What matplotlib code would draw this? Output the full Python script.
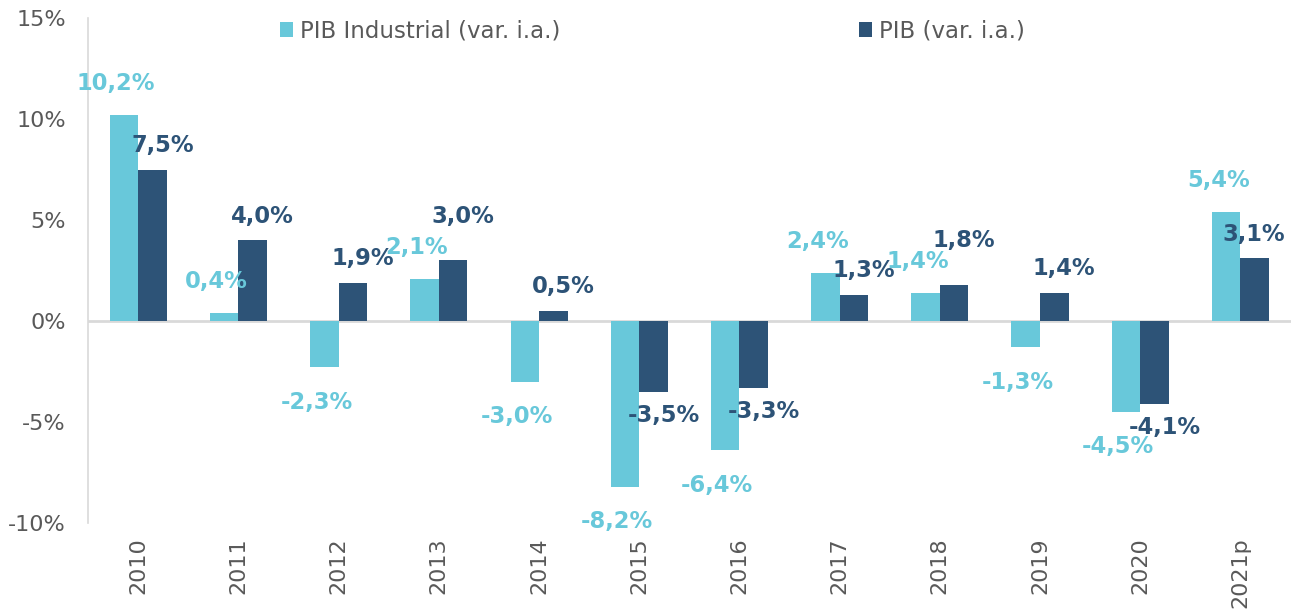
import numpy as np
import matplotlib
matplotlib.use("Agg")
import matplotlib.pyplot as plt

# data
years=["2010","2011","2012","2013","2014","2015","2016","2017","2018","2019","2020","2021p"]
pib_ind=[10.2,0.4,-2.3,2.1,-3.0,-8.2,-6.4,2.4,1.4,-1.3,-4.5,5.4]
pib=[7.5,4.0,1.9,3.0,0.5,-3.5,-3.3,1.3,1.8,1.4,-4.1,3.1]
names=["PIB Industrial (var. i.a.)","PIB (var. i.a.)"]

# style
c_light="#68C8DA"
c_dark="#2D5377"
c_txt="#595959"
FS=16
LFS=16.3

f0=plt.figure(figsize=(12.97,6.11),dpi=100)
ax0=f0.add_axes([0.068,0.144,0.927,0.8265])

x=np.arange(len(years))
w=0.285
b0=ax0.bar(x-w/2,pib_ind,w,color=c_light,label=names[0])
b1=ax0.bar(x+w/2,pib,w,color=c_dark,label=names[1])

def fmt(v):
    return ("%.1f%%"%v).replace(".",",")

# labels
labs=[]
for xi,v in zip(x,pib_ind):
    dy=31 if v>=0 else -35
    labs.append(ax0.annotate(fmt(v),(xi-w/2,v),xytext=(-8,dy),textcoords='offset pixels',
                 ha='center',va='center',color=c_light,fontsize=LFS,fontweight='bold'))
for xi,v,vl in zip(x,pib,pib_ind):
    if v>=0:
        # lift the label when it would run into the light one
        dy=44 if (vl>0 and 0<v-vl<1.5) else 24
    else:
        dy=-24
    labs.append(ax0.annotate(fmt(v),(xi+w/2,v),xytext=(10,dy),textcoords='offset pixels',
                 ha='center',va='center',color=c_dark,fontsize=LFS,fontweight='bold'))

ax0.set_xlim(-0.5,len(years)-0.5)
ax0.set_ylim(-10,15)
ax0.set_yticks([-10,-5,0,5,10,15])
ax0.set_yticklabels(["%d%%"%t for t in [-10,-5,0,5,10,15]])
ax0.set_xticks(x)
ax0.set_xticklabels(years,rotation=90)
ax0.tick_params(axis='both',length=0,labelsize=FS,colors=c_txt)
ax0.tick_params(axis='x',pad=10)
ax0.tick_params(axis='y',pad=16)

for s in ['top','right','bottom']:
    ax0.spines[s].set_visible(False)
ax0.spines['left'].set_color("#D9D9D9")
ax0.spines['left'].set_linewidth(1.2)
ax0.axhline(0,color="#D9D9D9",lw=2,zorder=0.5)

leg=f0.legend(handles=[b0,b1],labels=names,loc='center',bbox_to_anchor=(0.503,0.949),
              ncol=2,frameon=False,fontsize=16.5,handlelength=0.6,handleheight=0.6,
              handletextpad=0.3,columnspacing=13.0)
for t in leg.get_texts():
    t.set_color(c_txt)

# keep labels inside the figure
f0.canvas.draw()
r=f0.canvas.get_renderer()
W=f0.bbox.width
for t in labs:
    bb=t.get_window_extent(r)
    if bb.x1>W-12:
        ox,oy=t.xyann
        t.xyann=(ox-(bb.x1-(W-12)),oy)

f0.savefig("out.png",dpi=100)
